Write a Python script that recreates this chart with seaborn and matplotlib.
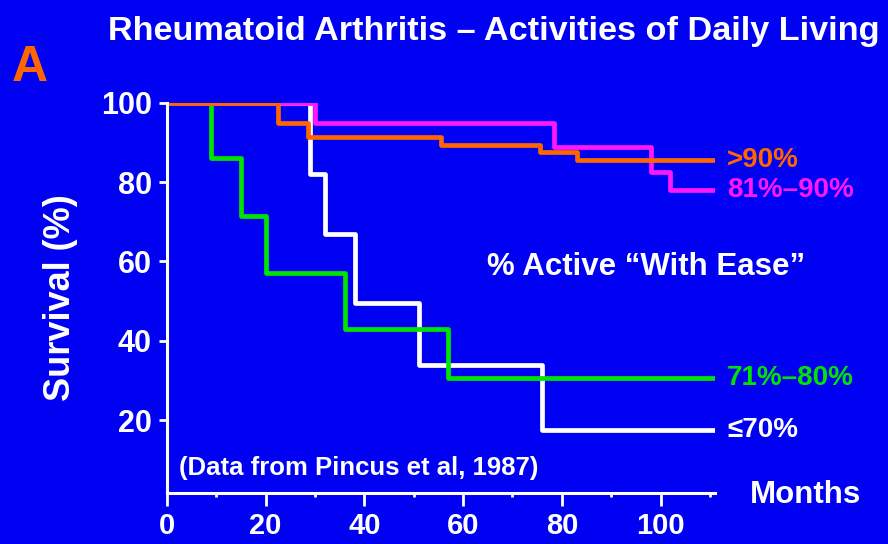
import numpy as np
import pandas as pd
import seaborn as sns
import matplotlib.pyplot as plt
from matplotlib.ticker import MultipleLocator

# survival steps (months, % surviving)
months_gt90 = [0, 22.5, 28.5, 55.5, 75.5, 83, 111]
surv_gt90 = [100, 95, 91.5, 89.5, 87.5, 85.5, 85.5]

months_81_90 = [0, 30, 78.5, 98, 102, 111]
surv_81_90 = [100, 95, 89, 82.5, 78, 78]

months_71_80 = [0, 9, 15, 20, 36, 57, 111]
surv_71_80 = [100, 86, 71.5, 57, 43, 30.5, 30.5]

months_le70 = [0, 29, 32, 38, 51, 76, 111]
surv_le70 = [100, 82, 67, 49.5, 34, 17.5, 17.5]

groups = ['>90%', '81%–90%', '71%–80%', '≤70%']
x_ticks = [0, 20, 40, 60, 80, 100]
y_ticks = [20, 40, 60, 80, 100]

bg = '#0000f2'
colors = {'>90%': '#ff6600', '81%–90%': '#ff18ff', '71%–80%': '#00e400', '≤70%': 'white'}

sns.set_theme(style='white')
plt.rcParams['font.family'] = ['Liberation Sans', 'DejaVu Sans']
plt.rcParams['font.weight'] = 'bold'

fig = plt.figure(figsize=(8.88, 5.44), dpi=100, facecolor=bg)
ax = fig.add_axes([0.188, 0.0938, 0.617, 0.717])
ax.set_facecolor(bg)

series = {
    '>90%': (months_gt90, surv_gt90),
    '81%–90%': (months_81_90, surv_81_90),
    '71%–80%': (months_71_80, surv_71_80),
    '≤70%': (months_le70, surv_le70),
}

# draw bottom to top: white, green, magenta, orange
for g in ['≤70%', '71%–80%', '81%–90%', '>90%']:
    m, s = series[g]
    df = pd.DataFrame({'month': m, 'surv': s})
    sns.lineplot(data=df, x='month', y='surv', ax=ax, color=colors[g], lw=3.4,
                 drawstyle='steps-post', estimator=None, sort=False, solid_capstyle='butt')
    ax.text(m[-1] + 2.5, s[-1], g, color=colors[g], fontsize=20, fontweight='bold',
            va='center', ha='left', clip_on=False)

ax.set_xlim(0, 111)
ax.set_ylim(1.6, 100)
ax.set_xticks(x_ticks)
ax.set_yticks(y_ticks)
ax.xaxis.set_minor_locator(MultipleLocator(10))
ax.tick_params(axis='x', which='major', colors='white', direction='out', length=9,
               width=2, labelsize=21, pad=5, bottom=True)
ax.tick_params(axis='x', which='minor', colors='white', direction='out', length=3,
               width=2, bottom=True)
ax.tick_params(axis='y', colors='white', direction='out', length=6, width=2,
               labelsize=22, pad=5, left=True)
for lab in ax.get_xticklabels() + ax.get_yticklabels():
    lab.set_fontweight('bold')

for side in ['top', 'right']:
    ax.spines[side].set_visible(False)
for side in ['left', 'bottom']:
    ax.spines[side].set_color('white')
    ax.spines[side].set_linewidth(2.2)

ax.set_xlabel('')
ax.set_ylabel('Survival (%)', color='white', fontsize=26, fontweight='bold', labelpad=16)

ax.text(97, 58.5, '% Active “With Ease”', color='white', fontsize=22.5, fontweight='bold',
        ha='center', va='center')
ax.text(2.5, 8, '(Data from Pincus et al, 1987)', color='white', fontsize=18.5,
        fontweight='bold', ha='left', va='center')
ax.text(118, 1.2, 'Months', color='white', fontsize=22.5, fontweight='bold',
        ha='left', va='center', clip_on=False)

fig.text(0.556, 0.943, 'Rheumatoid Arthritis – Activities of Daily Living', color='white',
         fontsize=24.7, fontweight='bold', ha='center', va='center')
fig.text(0.013, 0.875, 'A', color='#ff6600', fontsize=36, fontweight='bold',
         ha='left', va='center')

fig.savefig('out.png', dpi=100, facecolor=bg)
